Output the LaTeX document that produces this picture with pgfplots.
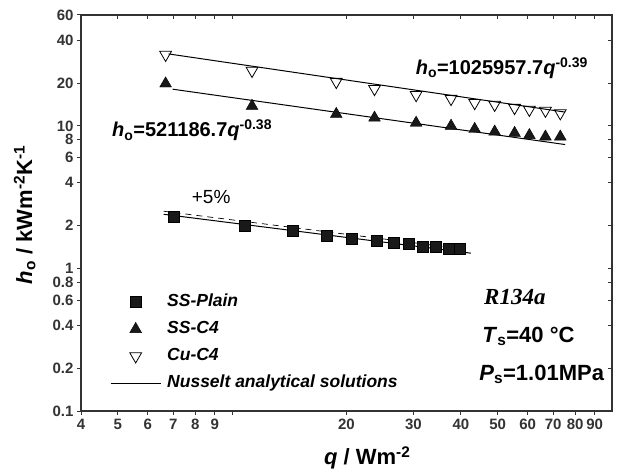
\documentclass[border=0pt]{standalone}
\usepackage{fontspec}
\setmainfont{Liberation Sans}
\newfontfamily\timesfont{Liberation Serif}
\usepackage{pgfplots}
\pgfplotsset{compat=1.18}
\definecolor{axgray}{HTML}{333333}

\begin{document}
\begin{tikzpicture}
\path[use as bounding box] (0,0) rectangle (624bp,475bp);
\pgfplotsset{
  every axis/.append style={
    at={(81bp,64bp)}, anchor=south west,
    width=531bp, height=396bp, scale only axis,
    xmin=4, xmax=100, ymin=0.1, ymax=60,
    xtick={4,5,6,7,8,9,10,20,30,40,50,60,70,80,90},
    ytick={0.1,0.2,0.4,0.6,0.8,1,2,4,6,8,10,20,40,60},
    minor xtick={}, minor ytick={},
    major tick length=4bp,
    tick style={axgray, line width=1bp},
    axis line style={axgray, line width=1.3bp},
  }
}
% top and right: inward ticks, no labels
\begin{axis}[xmode=log, ymode=log,
  tick align=inside, xtick pos=right, ytick pos=right,
  xticklabels={}, yticklabels={}]
\end{axis}

\begin{axis}[xmode=log, ymode=log,
  tick align=outside, xtick pos=left, ytick pos=left,
  xticklabels={4,5,6,7,8,9,,20,30,40,50,60,70,80,90},
  yticklabels={0.1,0.2,0.4,0.6,0.8,1,2,4,6,8,10,20,40,60},
  /pgf/number format/assume math mode=true,
  tick label style={font=\fontsize{15bp}{17bp}\selectfont\bfseries, text=axgray},
  xticklabel style={yshift=-1bp},
  xlabel={\textit{q} / Wm\textsuperscript{-2}},
  ylabel={\textit{h}\textsubscript{o} / kWm\textsuperscript{-2}K\textsuperscript{-1}},
  xlabel style={font=\fontsize{22bp}{26bp}\selectfont\bfseries,
    at={(axis description cs:0.539,-0.136)}, anchor=base},
  ylabel style={font=\fontsize{22bp}{26bp}\selectfont\bfseries,
    at={(axis description cs:-0.092,0.495)}, anchor=base},
  legend style={at={(axis description cs:0.0546,0.2955)}, anchor=north west,
    draw=none, fill=none, inner sep=0pt, row sep=11bp,
    font=\fontsize{17.5bp}{20bp}\selectfont\bfseries\itshape,
    nodes={inner sep=0pt, text height=12bp, text depth=4bp},
    column sep=6bp},
  legend cell align=left,
  legend image code/.code={
    \path[draw=none, fill=none] (0bp,-7bp) rectangle (50bp,7bp);
    \draw[mark repeat=2,mark phase=2,#1] plot coordinates {(0bp,0bp) (25bp,0bp) (50bp,0bp)};},
]

% SS-Plain
\addplot[only marks, mark=square*, mark size=5.5bp, draw=black, fill=black!90]
coordinates {
(7.01,2.29) (10.8,1.98) (14.4,1.85) (17.7,1.71) (20.7,1.63) (24.0,1.57)
(26.6,1.52) (29.1,1.48) (31.8,1.43) (34.4,1.41) (37.2,1.38) (39.7,1.38)
};
\addlegendentry{SS-Plain}

% SS-C4
\addplot[only marks, mark=triangle*, mark size=6.8bp, draw=black, fill=black!90]
coordinates {
(6.68,19.8) (11.28,13.8) (18.8,12.1) (23.7,11.4) (30.5,10.5) (37.7,10.0)
(43.5,9.5) (49.1,9.1) (55.4,8.9) (60.6,8.6) (66.8,8.4) (73.1,8.4)
};
\addlegendentry{SS-C4}

% Cu-C4
\addplot[only marks, mark=triangle, mark size=6.8bp,
  mark options={rotate=180, draw=black, fill=white, line width=0.8bp}]
coordinates {
(6.68,31.6) (11.28,24.4) (18.8,20.4) (23.7,18.2) (30.5,16.5) (37.7,15.5)
(43.5,14.5) (49.1,14.1) (55.4,13.4) (60.6,13.0) (66.8,12.8) (73.1,12.3)
};
\addlegendentry{Cu-C4}

% Nusselt analytical solutions
\addplot[black, line width=1bp, no marks] coordinates {(6.6,2.40) (42.5,1.28)};
\addlegendentry{Nusselt analytical solutions}
\addplot[black, line width=1bp, no marks, forget plot] coordinates {(6.97,18.1) (75.3,7.4)};
\addplot[black, line width=1bp, no marks, forget plot] coordinates {(6.8,32.0) (75.3,12.5)};
% +5% line
\addplot[black, line width=0.7bp, dash pattern=on 6bp off 5bp, no marks, forget plot]
coordinates {(6.6,2.52) (38,1.40)};

\node[anchor=base west, font=\fontsize{20bp}{24bp}\selectfont\bfseries]
  at (axis cs:4.73,8.37) {\textit{h}\textsubscript{o}=521186.7\textit{q}\textsuperscript{-0.38}};
\node[anchor=base west, font=\fontsize{20bp}{24bp}\selectfont\bfseries]
  at (axis cs:29.8,22.9) {\textit{h}\textsubscript{o}=1025957.7\textit{q}\textsuperscript{-0.39}};
\node[anchor=base west, font=\fontsize{19bp}{22bp}\selectfont]
  at (axis cs:7.67,2.87) {+5\%};
\node[anchor=base west, font=\fontsize{23bp}{26bp}\selectfont\timesfont\bfseries\itshape]
  at (axis cs:45.1,0.558) {R134a};
\node[anchor=base west, font=\fontsize{22bp}{26bp}\selectfont\bfseries]
  at (axis cs:44.6,0.301) {\textit{T}\textsubscript{s}=40 °C};
\node[anchor=base west, font=\fontsize{22bp}{26bp}\selectfont\bfseries]
  at (axis cs:43.8,0.163) {\textit{P}\textsubscript{s}=1.01MPa};
\end{axis}
\end{tikzpicture}
\end{document}
